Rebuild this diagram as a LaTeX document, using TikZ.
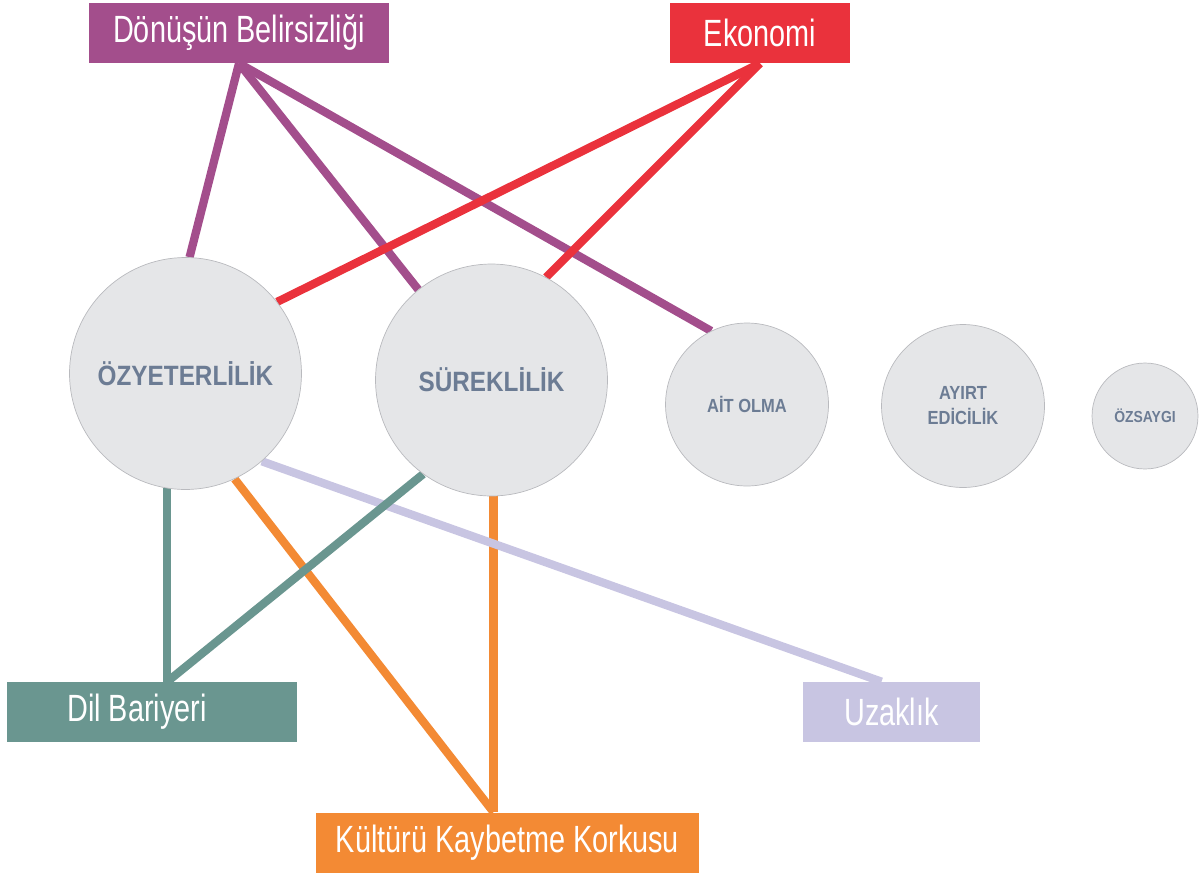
\documentclass[tikz,border=0pt]{standalone}
\usepackage{fontspec}
\setmainfont{Liberation Sans}
\newfontfamily\boxfont[FakeStretch=0.76]{Liberation Sans}
\newfontfamily\circfont[FakeStretch=0.87]{Liberation Sans Bold}
\usetikzlibrary{backgrounds}
\definecolor{donpurple}{RGB}{163,78,140}
\definecolor{ekored}{RGB}{234,50,60}
\definecolor{dilteal}{RGB}{106,150,144}
\definecolor{kulorange}{RGB}{243,138,52}
\definecolor{uzalav}{RGB}{200,197,226}
\definecolor{circfill}{RGB}{229,230,232}
\definecolor{circline}{RGB}{185,186,190}
\definecolor{circtext}{RGB}{108,124,148}

\begin{document}
\begin{tikzpicture}[x=0.02cm,y=-0.02cm,
    box/.style={minimum height=1.2cm, inner sep=0pt, text=white,
      font=\boxfont\fontsize{21.6}{26}\selectfont},
    circ/.style={circle, fill=circfill, draw=circline, line width=0.4pt,
      inner sep=0pt, text=circtext, align=center},
    link/.style={line width=4.7pt}]
    \useasboundingbox (0,0) rectangle (1203,876);

    % factor boxes
    \node[box, fill=donpurple, minimum width=6cm] (don) at (239,33) {Dönüşün Belirsizliği};
    \node[box, fill=ekored, minimum width=3.6cm] (eko) at (760,33) {Ekonomi};
    \node[box, fill=dilteal, minimum width=5.8cm] (dil) at (152,712) {Dil Bariyeri\hspace*{0.6cm}};
    \node[box, fill=uzalav, minimum width=3.54cm] (uza) at (891.5,712) {Uzaklık};
    \node[box, fill=kulorange, minimum width=7.66cm] (kul) at (507.5,842.5) {Kültürü Kaybetme Korkusu};

    % identity circles
    \node[circ, minimum size=4.64cm, font=\circfont\fontsize{15.9}{19}\selectfont] (oz) at (185.5,373.5) {ÖZYETERLİLİK};
    \node[circ, minimum size=4.64cm, font=\circfont\fontsize{15.9}{19}\selectfont] (sur) at (491.5,380) {SÜREKLİLİK};
    \node[circ, minimum size=3.26cm, font=\circfont\fontsize{10.8}{14.2}\selectfont] (ait) at (747,404.5) {AİT OLMA};
    \node[circ, minimum size=3.26cm, font=\circfont\fontsize{10.8}{14.2}\selectfont] (ayirt) at (963,406) {AYIRT\\EDİCİLİK};
    \node[circ, minimum size=2.12cm, font=\circfont\fontsize{9.1}{11}\selectfont] (ozs) at (1145,416) {ÖZSAYGI};

    \coordinate (dilin) at (oz.-99 |- dil.north);
    \coordinate (kulin) at (sur.-89 |- kul.north);
    \coordinate (uzain) at ([xshift=-0.2cm]uza.north);

    % links
    \begin{scope}[on background layer]
      \draw[link, donpurple] (don.south) -- (oz.88);
      \draw[link, donpurple] (don.south) -- (sur.129);
      \draw[link, donpurple] (don.south) -- (ait.116);
      \draw[link, ekored] (eko.south) -- (oz.38);
      \draw[link, ekored] (eko.south) -- (sur.62);
      \draw[link, kulorange] (oz.-65) -- (kulin);
      \draw[link, kulorange] (sur.-89) -- (kulin);
      \draw[link, uzalav] (oz.-49) -- (uzain);
      \draw[link, dilteal] (oz.-99) -- (dilin);
      \draw[link, dilteal] (sur.-126) -- (dilin);
    \end{scope}
\end{tikzpicture}
\end{document}
